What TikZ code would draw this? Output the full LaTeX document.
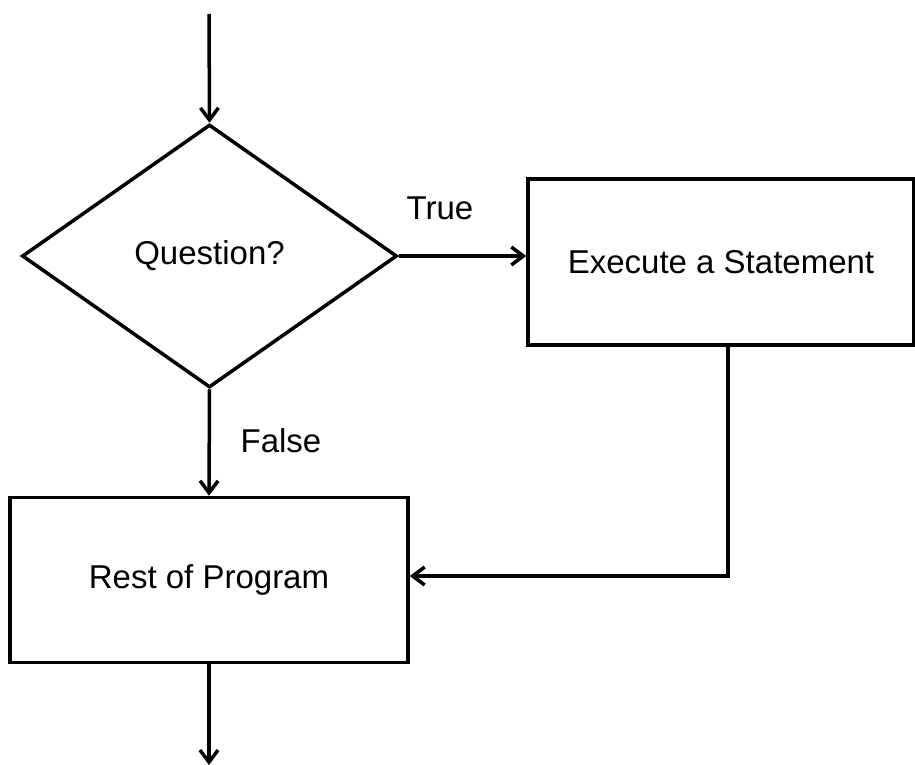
\documentclass[tikz,border=0pt]{standalone}
\usepackage{fontspec}
\setmainfont{Liberation Sans}
\usetikzlibrary{shapes.geometric,arrows.meta}
\begin{document}
\begin{tikzpicture}[x=1pt,y=-1pt,
  line width=3.5pt,
  txt/.style={font=\fontsize{33}{40}\selectfont},
  boxnode/.style={draw,rectangle,inner sep=0pt,txt},
  decision/.style={draw,diamond,inner sep=0pt,txt,aspect=1.426},
  arr/.style={-{Straight Barb[length=12pt,width=18pt,line width=3.5pt]}},
  lbl/.style={txt,inner sep=0pt}]
\useasboundingbox (0,0) rectangle (915,765);
\coordinate (start) at (209,14);
\node[decision,minimum width=375pt,minimum height=263pt] (q) at (209.5,256) {Question?};
\node[boxnode,minimum width=386pt,minimum height=166pt] (exec) at (721,262) {\raisebox{-3pt}{Execute a Statement}};
\node[boxnode,minimum width=398pt,minimum height=165pt] (rest) at (209,580) {\raisebox{-3pt}{Rest of Program}};
\coordinate (end) at (209,765);
\coordinate (bend) at (728,576);
\draw[arr] (start) -- (q.north);
\draw[arr] (q.east) -- (q.east -| exec.west);
\draw[arr] (q.south) -- (rest.north);
\draw[arr] (exec.south -| bend) -- (bend) -- (bend -| rest.east);
\draw[arr] (rest.south) -- (end);
\node[lbl] (t) at (440,208) {True};
\node[lbl] (f) at (281,441) {False};
\end{tikzpicture}
\end{document}
